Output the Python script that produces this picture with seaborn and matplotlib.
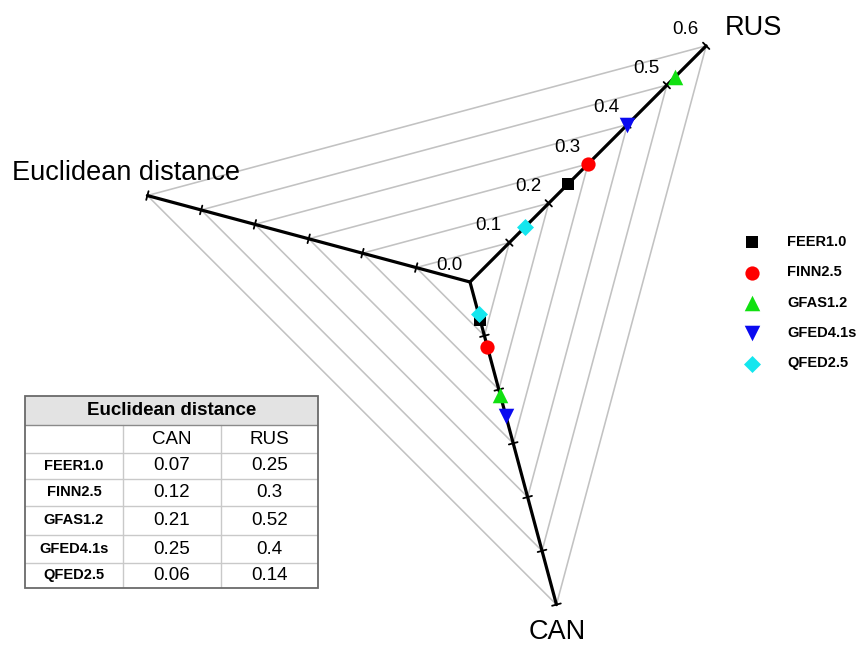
import numpy as np
import pandas as pd
import matplotlib
matplotlib.use("Agg")
import matplotlib.pyplot as plt
import seaborn as sns
from matplotlib.patches import Rectangle

# ---- data -------------------------------------------------------------
products = ["FEER1.0", "FINN2.5", "GFAS1.2", "GFED4.1s", "QFED2.5"]
can_dist = [0.07, 0.12, 0.21, 0.25, 0.06]
rus_dist = [0.25, 0.30, 0.52, 0.40, 0.14]
axis_names = ["RUS", "Euclidean distance", "CAN"]
tick_values = [0.0, 0.1, 0.2, 0.3, 0.4, 0.5, 0.6]
table_title = "Euclidean distance"
table_columns = ["CAN", "RUS"]
can_text = ["0.07", "0.12", "0.21", "0.25", "0.06"]
rus_text = ["0.25", "0.3", "0.52", "0.4", "0.14"]

# ---- styling ----------------------------------------------------------
colors = {"FEER1.0": "#000000", "FINN2.5": "#ff0000", "GFAS1.2": "#11e011",
          "GFED4.1s": "#0a0af0", "QFED2.5": "#14e6ee"}
markers = {"FEER1.0": "s", "FINN2.5": "o", "GFAS1.2": "^",
           "GFED4.1s": "v", "QFED2.5": "D"}
sizes = {"FEER1.0": 75, "FINN2.5": 105, "GFAS1.2": 125,
         "GFED4.1s": 125, "QFED2.5": 75}

sns.set_theme(style="white")
plt.rcParams["font.family"] = ["Liberation Sans", "DejaVu Sans"]
plt.rcParams["text.color"] = "black"

W, H = 858, 646
fig = plt.figure(figsize=(W / 100, H / 100), dpi=100)
ax = fig.add_axes([0, 0, 1, 1])

# radar geometry: centre pixel and pixel length of the 0.6 spoke
R_MAX = tick_values[-1]
k = 334 / R_MAX
cx, cy = 470, 282
ax.set_xlim(-cx / k, (W - cx) / k)
ax.set_ylim(-(H - cy) / k, cy / k)
ax.axis("off")


def px(x, y):
    """pixel position -> radar data coordinates"""
    return (x - cx) / k, (cy - y) / k


angles = np.deg2rad([45, 165, 285])
dirs = {n: np.array([np.cos(a), np.sin(a)]) for n, a in zip(axis_names, angles)}

# triangular grid
for v in tick_values[1:]:
    pts = np.array([dirs[n] * v for n in axis_names + [axis_names[0]]])
    ax.plot(pts[:, 0], pts[:, 1], color="#c2c2c2", lw=1.15, zorder=1)

# spokes with tick marks
half = 4.5 / k
for n in axis_names:
    d = dirs[n]
    ax.plot([0, d[0] * R_MAX], [0, d[1] * R_MAX], color="black", lw=2.3,
            zorder=2, solid_capstyle="round")
    perp = np.array([-d[1], d[0]])
    for v in tick_values[1:]:
        p = d * v
        ax.plot([p[0] - perp[0] * half, p[0] + perp[0] * half],
                [p[1] - perp[1] * half, p[1] + perp[1] * half],
                color="black", lw=1.3, zorder=2)

# value labels along the RUS spoke
for v in tick_values:
    p = dirs["RUS"] * v
    ax.annotate(f"{v:.1f}", xy=p, xytext=(-15, 12), textcoords="offset points",
                ha="center", va="center", fontsize=13.5, color="black")

# spoke names
ax.text(*px(725, 35), "RUS", ha="left", va="baseline", fontsize=19.5)
ax.text(*px(12, 180), "Euclidean distance", ha="left", va="baseline", fontsize=19.5)
ax.text(*px(557, 639), "CAN", ha="center", va="baseline", fontsize=19.5)

# markers on the RUS and CAN spokes
rows = []
for p, c, r in zip(products, can_dist, rus_dist):
    for name, val in (("RUS", r), ("CAN", c)):
        x, y = dirs[name] * val
        rows.append({"product": p, "region": name, "value": val, "x": x, "y": y})
df = pd.DataFrame(rows)

for p in products:
    sns.scatterplot(data=df[df["product"] == p], x="x", y="y", ax=ax,
                    marker=markers[p], color=colors[p], s=sizes[p],
                    linewidth=0, label=p, zorder=4)

ax.legend(loc="upper left", bbox_to_anchor=(745 / W, 1 - 235 / H),
          frameon=False, prop={"weight": "bold", "size": 10.5},
          handlelength=1.0, handletextpad=1.9, labelspacing=1.12,
          borderpad=0, borderaxespad=0, scatterpoints=1)
ax.set_xlabel("")
ax.set_ylabel("")

# ---- summary table ----------------------------------------------------
tw, th = 293, 192
tax = fig.add_axes([25 / W, 1 - 588 / H, tw / W, th / H])
tax.set_xlim(0, tw)
tax.set_ylim(th, 0)
tax.axis("off")

row_edges = [0, 29, 57, 83, 110, 139, 167, 192]
col_edges = [0, 98, 196, tw]
tax.add_patch(Rectangle((0, 0), tw, row_edges[1], facecolor="#e3e3e3",
                        edgecolor="none", zorder=0))
for y in row_edges[2:-1]:
    tax.plot([0, tw], [y, y], color="#c9c9c9", lw=1.0, zorder=1)
for x in col_edges[1:-1]:
    tax.plot([x, x], [row_edges[1], th], color="#c9c9c9", lw=1.0, zorder=1)
tax.plot([0, tw], [row_edges[1], row_edges[1]], color="#8a8a8a", lw=1.0, zorder=2)
tax.add_patch(Rectangle((0, 0), tw, th, facecolor="none", edgecolor="#6a6a6a",
                        lw=1.3, zorder=3, clip_on=False))

col_mid = [(col_edges[i] + col_edges[i + 1]) / 2 for i in range(3)]
row_mid = [(row_edges[i] + row_edges[i + 1]) / 2 for i in range(len(row_edges) - 1)]
tax.text(tw / 2, row_mid[0], table_title, ha="center", va="center",
         fontsize=13.5, fontweight="bold")
for j, name in enumerate(table_columns):
    tax.text(col_mid[j + 1], row_mid[1], name, ha="center", va="center", fontsize=13.5)
for i, p in enumerate(products):
    y = row_mid[i + 2]
    tax.text(col_mid[0], y, p, ha="center", va="center", fontsize=10.5,
             fontweight="bold")
    tax.text(col_mid[1], y, can_text[i], ha="center", va="center", fontsize=13.5)
    tax.text(col_mid[2], y, rus_text[i], ha="center", va="center", fontsize=13.5)

fig.savefig("out.png", dpi=100)
